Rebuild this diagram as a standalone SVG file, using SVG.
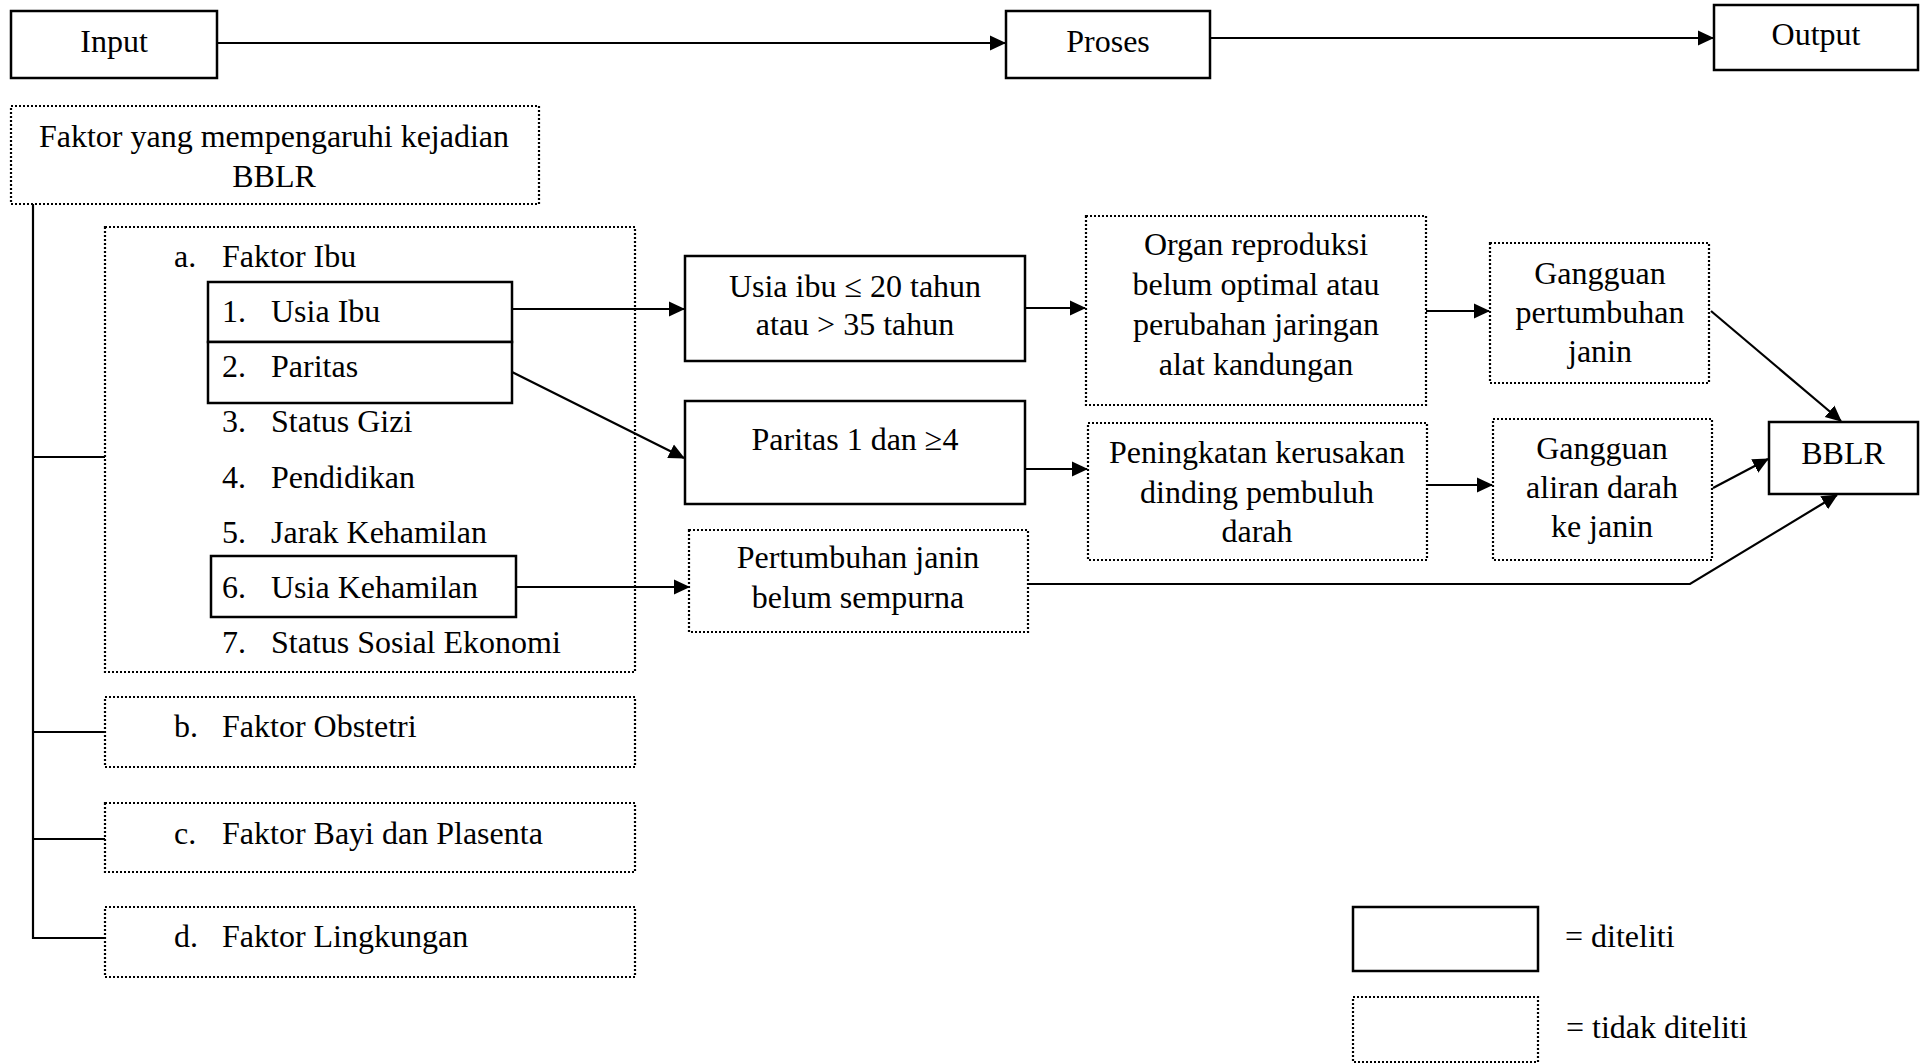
<svg xmlns="http://www.w3.org/2000/svg" width="1924" height="1064" viewBox="0 0 1924 1064">
<defs>
<style>
.s{fill:#fff;stroke:#000;stroke-width:2.5}
.d{fill:#fff;stroke:#000;stroke-width:2.2;stroke-dasharray:2 2}
.t{font-family:"Liberation Serif","Times New Roman",serif;font-size:32px;fill:#000}
.c{text-anchor:middle}
.l{fill:none;stroke:#000;stroke-width:2.2}
</style>
<marker id="a" markerUnits="userSpaceOnUse" markerWidth="16" markerHeight="16" viewBox="0 0 16 16" refX="15" refY="8" orient="auto">
<path d="M0,0.5 L16,8 L0,15.5 Z" fill="#000"/>
</marker>
</defs>
<rect width="1924" height="1064" fill="#fff"/>

<g id="input"><rect class="s" x="11" y="11" width="206" height="67"/><text class="t c" x="114" y="52">Input</text></g>
<g id="proses"><rect class="s" x="1006" y="11" width="204" height="67"/><text class="t c" x="1108" y="52">Proses</text></g>
<g id="output"><rect class="s" x="1714" y="5" width="204" height="65"/><text class="t c" x="1816" y="45">Output</text></g>

<g id="faktor"><rect class="d" x="11" y="106" width="528" height="98"/>
<text class="t c" x="274" y="147">Faktor yang mempengaruhi kejadian</text>
<text class="t c" x="274" y="187">BBLR</text></g>

<g id="faktor-ibu"><rect class="d" x="105" y="227" width="530" height="445"/>
<text class="t" x="174" y="267">a.</text><text class="t" x="222" y="267">Faktor Ibu</text>
<text class="t" x="222" y="432">3.</text><text class="t" x="271" y="432">Status Gizi</text>
<text class="t" x="222" y="488">4.</text><text class="t" x="271" y="488">Pendidikan</text>
<text class="t" x="222" y="543">5.</text><text class="t" x="271" y="543">Jarak Kehamilan</text>
<text class="t" x="222" y="653">7.</text><text class="t" x="271" y="653">Status Sosial Ekonomi</text>
</g>
<g id="usia-ibu"><rect class="s" x="208" y="282" width="304" height="60"/>
<text class="t" x="222" y="322">1.</text><text class="t" x="271" y="322">Usia Ibu</text></g>
<g id="paritas"><rect class="s" x="208" y="342" width="304" height="61"/>
<text class="t" x="222" y="377">2.</text><text class="t" x="271" y="377">Paritas</text></g>
<g id="usia-kehamilan"><rect class="s" x="211" y="556" width="305" height="61"/>
<text class="t" x="222" y="598">6.</text><text class="t" x="271" y="598">Usia Kehamilan</text></g>

<g id="faktor-b"><rect class="d" x="105" y="697" width="530" height="70"/>
<text class="t" x="174" y="737">b.</text><text class="t" x="222" y="737">Faktor Obstetri</text></g>
<g id="faktor-c"><rect class="d" x="105" y="803" width="530" height="69"/>
<text class="t" x="174" y="844">c.</text><text class="t" x="222" y="844">Faktor Bayi dan Plasenta</text></g>
<g id="faktor-d"><rect class="d" x="105" y="907" width="530" height="70"/>
<text class="t" x="174" y="947">d.</text><text class="t" x="222" y="947">Faktor Lingkungan</text></g>

<g id="usia-ibu-range"><rect class="s" x="685" y="256" width="340" height="105"/>
<text class="t c" x="855" y="297">Usia ibu ≤ 20 tahun</text>
<text class="t c" x="855" y="335">atau &gt; 35 tahun</text></g>
<g id="paritas-range"><rect class="s" x="685" y="401" width="340" height="103"/>
<text class="t c" x="855" y="450">Paritas 1 dan ≥4</text></g>
<g id="pertumbuhan"><rect class="d" x="689" y="530" width="339" height="102"/>
<text class="t c" x="858" y="568">Pertumbuhan janin</text>
<text class="t c" x="858" y="608">belum sempurna</text></g>

<g id="organ"><rect class="d" x="1086" y="216" width="340" height="189"/>
<text class="t c" x="1256" y="255">Organ reproduksi</text>
<text class="t c" x="1256" y="295">belum optimal atau</text>
<text class="t c" x="1256" y="335">perubahan jaringan</text>
<text class="t c" x="1256" y="375">alat kandungan</text></g>
<g id="peningkatan"><rect class="d" x="1088" y="423" width="339" height="137"/>
<text class="t c" x="1257" y="463">Peningkatan kerusakan</text>
<text class="t c" x="1257" y="503">dinding pembuluh</text>
<text class="t c" x="1257" y="542">darah</text></g>

<g id="gangguan-pertumbuhan"><rect class="d" x="1490" y="243" width="219" height="140"/>
<text class="t c" x="1600" y="284">Gangguan</text>
<text class="t c" x="1600" y="323">pertumbuhan</text>
<text class="t c" x="1600" y="362">janin</text></g>
<g id="gangguan-aliran"><rect class="d" x="1493" y="419" width="219" height="141"/>
<text class="t c" x="1602" y="459">Gangguan</text>
<text class="t c" x="1602" y="498">aliran darah</text>
<text class="t c" x="1602" y="537">ke janin</text></g>
<g id="bblr"><rect class="s" x="1769" y="422" width="149" height="72"/>
<text class="t c" x="1843" y="464">BBLR</text></g>

<g id="legend">
<rect class="s" x="1353" y="907" width="185" height="64"/>
<text class="t" x="1565" y="947">= diteliti</text>
<rect class="d" x="1353" y="997" width="185" height="65"/>
<text class="t" x="1566" y="1038">= tidak diteliti</text>
</g>

<g id="connectors">
<line class="l" x1="217" y1="43" x2="1005" y2="43" marker-end="url(#a)"/>
<line class="l" x1="1210" y1="38" x2="1713" y2="38" marker-end="url(#a)"/>
<polyline class="l" points="33,204 33,938 105,938"/>
<line class="l" x1="33" y1="457" x2="105" y2="457"/>
<line class="l" x1="33" y1="732" x2="105" y2="732"/>
<line class="l" x1="33" y1="839" x2="105" y2="839"/>
<line class="l" x1="512" y1="309" x2="684" y2="309" marker-end="url(#a)"/>
<line class="l" x1="512" y1="372" x2="684" y2="458" marker-end="url(#a)"/>
<line class="l" x1="516" y1="587" x2="689" y2="587" marker-end="url(#a)"/>
<line class="l" x1="1025" y1="308" x2="1085" y2="308" marker-end="url(#a)"/>
<line class="l" x1="1025" y1="469" x2="1087" y2="469" marker-end="url(#a)"/>
<line class="l" x1="1426" y1="311" x2="1489" y2="311" marker-end="url(#a)"/>
<line class="l" x1="1427" y1="485" x2="1492" y2="485" marker-end="url(#a)"/>
<line class="l" x1="1711" y1="311" x2="1841" y2="421" marker-end="url(#a)"/>
<line class="l" x1="1713" y1="488" x2="1768" y2="459" marker-end="url(#a)"/>
<polyline class="l" points="1028,584 1690,584 1837,495" marker-end="url(#a)"/>
</g>
</svg>
